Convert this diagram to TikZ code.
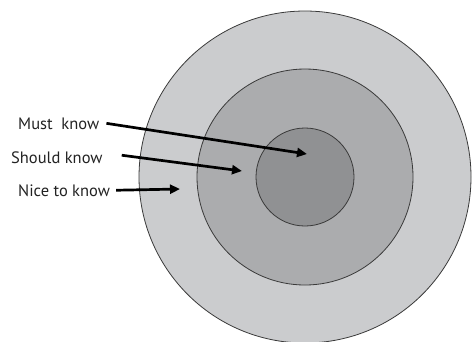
\documentclass[tikz,border=0pt]{standalone}
\usepackage{fontspec}
\setmainfont{PT Sans}
\usetikzlibrary{arrows.meta}
\definecolor{OuterGray}{HTML}{CBCCCE}
\definecolor{MiddleGray}{HTML}{ABACAE}
\definecolor{InnerGray}{HTML}{909193}
\definecolor{RingLine}{HTML}{3A3A3A}
\definecolor{LabelText}{HTML}{222222}
\tikzset{
  ring/.style={circle,draw=RingLine,line width=0.8pt,inner sep=0pt},
  label text/.style={anchor=base west,inner sep=0pt,text=LabelText,font=\fontsize{16.5}{18}\selectfont},
  pointer/.style={-{Triangle[length=10pt,width=9pt]},line width=2.7pt,black}
}
\begin{document}
\begin{tikzpicture}[x=1pt,y=-1pt]
\useasboundingbox (0,0) rectangle (473,341);
\node[ring,fill=OuterGray,minimum size=332pt] (outer) at (305,177) {};
\node[ring,fill=MiddleGray,minimum size=216pt] (middle) at (305,177) {};
\node[ring,fill=InnerGray,minimum size=98pt] (inner) at (305,177) {};

\node[label text] (must) at (18,129) {Must~ know};
\node[label text] (should) at (11,163) {Should know};
\node[label text] (nice) at (18,196) {Nice to know};

\coordinate (mustend) at (307,154);
\coordinate (shouldend) at (242,171);
\coordinate (niceend) at (180,189);

\draw[pointer] ([xshift=7pt]must.east) -- (mustend);
\draw[pointer] ([xshift=19pt,yshift=2pt]should.east) -- (shouldend);
\draw[pointer] ([xshift=6pt]nice.east) -- (niceend);
\end{tikzpicture}
\end{document}
